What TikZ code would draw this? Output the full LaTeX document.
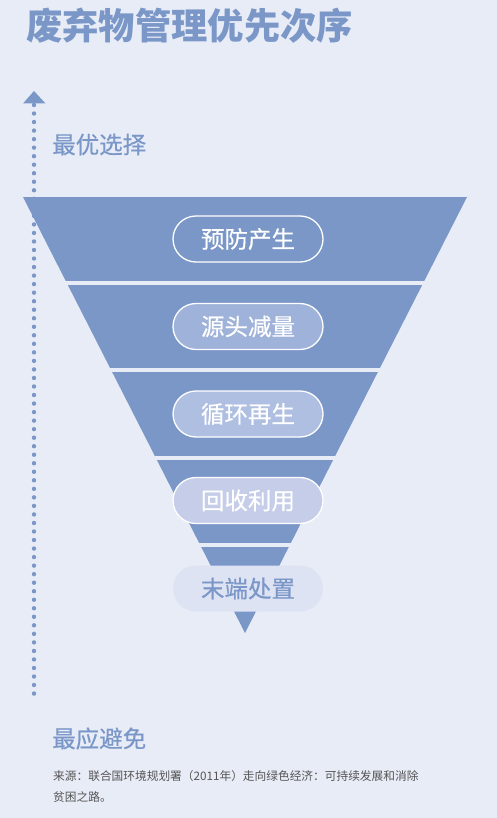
\documentclass[tikz,border=0pt]{standalone}
\usepackage{fontspec}
\setmainfont{Noto Sans CJK SC}
\newfontfamily\cjkmed[FakeBold=0.5]{Noto Sans CJK SC}
\usetikzlibrary{calc,shapes.misc}
\definecolor{bg}{HTML}{E8ECF7}
\definecolor{funnel}{HTML}{7A97C8}
\definecolor{accent}{HTML}{7A97C8}
\definecolor{pilltwo}{HTML}{9FB2DA}
\definecolor{pillthree}{HTML}{AFBFE2}
\definecolor{pillfour}{HTML}{C5CDE8}
\definecolor{pillfive}{HTML}{DDE3F3}
\definecolor{srcgray}{HTML}{555555}
\tikzset{
  pill/.style={rounded rectangle, minimum width=150, minimum height=46, inner sep=0,
    font=\cjkmed\fontsize{23.5}{23.5}\selectfont, text=white, draw=white, line width=1.3},
  sidelabel/.style={anchor=west, inner sep=0, text=accent, font=\cjkmed\fontsize{23.5}{23.5}\selectfont},
}
\begin{document}
\begin{tikzpicture}[x=1pt,y=-1pt]
\fill[bg] (0,0) rectangle (497,818);
\useasboundingbox (0,0) rectangle (497,818);

% title
\node[anchor=west, inner sep=0, text=accent, font=\fontsize{36.3}{36.3}\selectfont\bfseries] (title) at (26,26) {废弃物管理优先次序};

% dotted arrow
\coordinate (arrtip) at (34,91);
\coordinate (dottop) at (34,105);
\coordinate (dotbot) at (34,702);
\fill[accent] (arrtip) -- (23,103.5) -- (45.5,103.5) -- cycle;
\draw[accent, line width=4.4, line cap=round, dash pattern=on 0pt off 8.53pt] (dottop) -- (dotbot);

% funnel
\begin{scope}
\clip (23,197) -- (467,197) -- (245,633) -- cycle;
\fill[funnel] (0,197) rectangle (497,281);
\fill[funnel] (0,285) rectangle (497,368);
\fill[funnel] (0,372) rectangle (497,456);
\fill[funnel] (0,460) rectangle (497,543);
\fill[funnel] (0,547) rectangle (497,640);
\end{scope}

% pills
\node[pill] (p1) at (248,239) {预防产生};
\node[pill, fill=pilltwo] (p2) at (248,326.5) {源头减量};
\node[pill, fill=pillthree] (p3) at (248,414) {循环再生};
\node[pill, fill=pillfour] (p4) at (248,500.5) {回收利用};
\node[pill, fill=pillfive, draw=none, text=accent] (p5) at (248,588.5) {末端处置};

% side labels
\node[sidelabel] (best) at (52,144.5) {最优选择};
\node[sidelabel] (worst) at (52,738.5) {最应避免};

% source
\node[anchor=north west, inner sep=0, text=srcgray, font=\fontsize{11.7}{21}\selectfont, align=left] (src) at (53,770)
  {来源：联合国环境规划署（2011年）走向绿色经济：可持续发展和消除\\贫困之路。};
\end{tikzpicture}
\end{document}
